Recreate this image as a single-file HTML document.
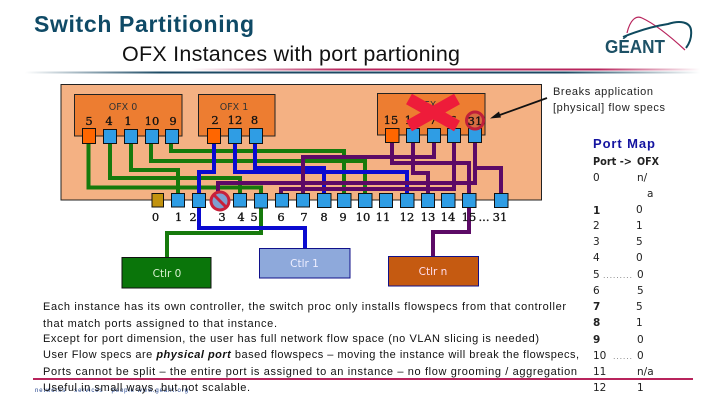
<!DOCTYPE html>
<html><head><meta charset="utf-8"><style>html,body{margin:0;padding:0;background:#fff}svg{display:block}
.s{font-family:"Liberation Sans",sans-serif}
.n{font-family:"DejaVu Serif",serif;font-size:11.5px;text-anchor:middle;fill:#111;stroke:#111;stroke-width:.3px}
.o{font-family:"DejaVu Sans",sans-serif;font-size:9.5px;text-anchor:middle;fill:#333}
.c{font-family:"DejaVu Sans",sans-serif;font-size:10.5px;text-anchor:middle}
.b{font-family:"Liberation Sans",sans-serif;font-size:11px;fill:#111}
.m{font-family:"DejaVu Sans",sans-serif;font-size:10.5px;fill:#222}
</style></head><body>
<svg width="720" height="405" viewBox="0 0 720 405" xmlns="http://www.w3.org/2000/svg">
<defs>
<linearGradient id="g1" x1="0" x2="1" y1="0" y2="0"><stop offset="0" stop-color="#fff"/><stop offset=".2" stop-color="#1c4a64"/><stop offset=".8" stop-color="#1c4a64"/><stop offset="1" stop-color="#fff"/></linearGradient>
<linearGradient id="g2" x1="0" x2="1" y1="0" y2="0"><stop offset="0" stop-color="#fff"/><stop offset=".3" stop-color="#b8245c"/><stop offset=".8" stop-color="#b8245c"/><stop offset="1" stop-color="#fff"/></linearGradient>
</defs>
<text x="34" y="32" class="s" font-size="23" font-weight="bold" fill="#0f4a66" textLength="220" lengthAdjust="spacing">Switch Partitioning</text>
<text x="122" y="61" class="s" font-size="21.500" fill="#111" textLength="338" lengthAdjust="spacing">OFX Instances with port partioning</text>
<rect x="25" y="71.500" width="675" height="2" fill="url(#g1)"/>
<rect x="190" y="68.500" width="510" height="2" fill="url(#g2)"/>

<path d="M627 33C630 20 636 15 642 18C655 24 672 38 685 50" fill="none" stroke="#b8245c" stroke-width="1.200"/>
<path d="M623 37C640 30 655 26 668 24C680 20 690 22 691 30C692 38 689 44 686 48" fill="none" stroke="#0f4a5e" stroke-width="2"/>
<text x="605" y="53" class="s" font-size="18" font-weight="bold" fill="#1d5166" textLength="60" lengthAdjust="spacingAndGlyphs">GÉANT</text>

<rect x="61" y="84.500" width="480.500" height="115.500" fill="#f4b183" stroke="#222" stroke-width="1"/>
<rect x="74.500" y="94.500" width="107.500" height="41.500" fill="#ed7d31" stroke="#222"/>
<rect x="198.500" y="94.500" width="76.500" height="41.500" fill="#ed7d31" stroke="#222"/>
<rect x="377.500" y="93.500" width="107.500" height="41.500" fill="#ed7d31" stroke="#222"/>

<g fill="none" stroke="#167a0c" stroke-width="4">
<path d="M88.500 143V187.500H261V233H167V257"/>
<path d="M110 143V178H240V193"/>
<path d="M131 143V170H178V193"/>
<path d="M151 143V161H365V193"/>
<path d="M171 143V151H344V193"/>
</g>
<g fill="none" stroke="#0a0ad0" stroke-width="4">
<path d="M214 143V172H199V228H305V248"/>
<path d="M235 143V172H407V193"/>
<path d="M255 143V168H324V193"/>
</g>
<g fill="none" stroke="#5c0a66" stroke-width="4">
<path d="M392 142V163H469V232H433V256"/>
<path d="M413 142V173H428V193"/>
<path d="M434 142V157H303V193"/>
<path d="M454 142V189H281V193"/>
<path d="M475 142V183H218V193"/>
<path d="M475 168H501V193"/>
</g>

<g stroke="#111" stroke-width="1">
<rect x="82.500" y="128.500" width="13" height="15" fill="#ff6600"/>
<rect x="103.500" y="129.500" width="13" height="14" fill="#2f9de4"/>
<rect x="124.500" y="129.500" width="13" height="14" fill="#2f9de4"/>
<rect x="145.500" y="129.500" width="13" height="14" fill="#2f9de4"/>
<rect x="165.500" y="129.500" width="13" height="14" fill="#2f9de4"/>
<rect x="207.500" y="128.500" width="13" height="15" fill="#ff6600"/>
<rect x="228.500" y="128.500" width="13" height="15" fill="#2f9de4"/>
<rect x="249.500" y="128.500" width="13" height="15" fill="#2f9de4"/>
<rect x="385.500" y="128.500" width="13.500" height="14" fill="#ff6600"/>
<rect x="406.500" y="128.500" width="13" height="14" fill="#2f9de4"/>
<rect x="427.500" y="128.500" width="13" height="14" fill="#2f9de4"/>
<rect x="447.500" y="128.500" width="13" height="14" fill="#2f9de4"/>
<rect x="468.500" y="128.500" width="13" height="14" fill="#2f9de4"/>
</g>
<g stroke="#111" stroke-width="1" fill="#2f9de4">
<rect x="152" y="193.500" width="11.500" height="13.500" fill="#c2930f"/>
<rect x="171.500" y="193.500" width="13" height="13.500"/>
<rect x="192.500" y="193.500" width="13" height="14"/>
<rect x="233.500" y="193.500" width="13" height="13.500"/>
<rect x="254.500" y="193.500" width="13" height="14.500"/>
<rect x="275.500" y="193.500" width="13" height="13.500"/>
<rect x="296.500" y="193.500" width="13" height="13.500"/>
<rect x="317.500" y="193.500" width="13.500" height="14"/>
<rect x="337.500" y="193.500" width="13.500" height="14"/>
<rect x="358.500" y="193.500" width="13.500" height="14"/>
<rect x="379.500" y="193.500" width="13" height="14"/>
<rect x="400.500" y="193.500" width="13.500" height="14"/>
<rect x="421.500" y="193.500" width="13" height="14"/>
<rect x="441.500" y="193.500" width="13.500" height="14"/>
<rect x="462.500" y="193.500" width="13.500" height="14"/>
<rect x="494.500" y="193.500" width="13.500" height="14"/>
</g>

<circle cx="220" cy="201" r="9" fill="#7f9fd0" stroke="#c8203a" stroke-width="3"/>
<path d="M213.500 194.500L226.500 207.500" stroke="#c8203a" stroke-width="3"/>

<text x="123" y="110" class="o">OFX 0</text>
<text x="234" y="110" class="o">OFX 1</text>
<text x="431" y="108" class="o">OFX n</text>
<text class="n" x="89" y="125">5</text><text class="n" x="109" y="125">4</text><text class="n" x="128" y="125">1</text><text class="n" x="152" y="125">10</text><text class="n" x="173" y="125">9</text>
<text class="n" x="215" y="124">2</text><text class="n" x="235" y="124">12</text><text class="n" x="254.500" y="124">8</text>
<text class="n" x="391" y="124">15</text><text class="n" x="412" y="124">14</text><text class="n" x="433" y="124">7</text><text class="n" x="453" y="124">6</text>
<text class="n" x="155.500" y="221">0</text><text class="n" x="178.500" y="221">1</text><text class="n" x="193" y="221">2</text><text class="n" x="222" y="221">3</text><text class="n" x="241" y="221">4</text><text class="n" x="254" y="221">5</text><text class="n" x="281" y="221">6</text><text class="n" x="304" y="221">7</text><text class="n" x="324" y="221">8</text><text class="n" x="343" y="221">9</text><text class="n" x="363" y="221">10</text><text class="n" x="383" y="221">11</text><text class="n" x="407" y="221">12</text><text class="n" x="428" y="221">13</text><text class="n" x="448" y="221">14</text><text class="n" x="469" y="221">15</text><text class="n" x="484" y="221">...</text><text class="n" x="500" y="221">31</text>

<path d="M409 99L457 126M457 99L409 126" stroke="#ee1c3a" stroke-width="12" fill="none"/>
<circle cx="475" cy="120.500" r="8.500" fill="#b05060" fill-opacity=".35" stroke="#c0203a" stroke-width="3"/>
<text class="n" x="475" y="125">31</text>

<path d="M547 98L497 116" stroke="#111" stroke-width="1.800"/>
<path d="M490 118.500L499 111.500L501 117.500Z" fill="#111"/>
<text x="553" y="95" class="s" font-size="11" fill="#222" textLength="100" lengthAdjust="spacing">Breaks application</text>
<text x="553" y="111" class="s" font-size="11" fill="#222" textLength="112" lengthAdjust="spacing">[physical] flow specs</text>

<rect x="122" y="257.500" width="89" height="30.500" fill="#0a750a" stroke="#111"/>
<text x="167" y="277" class="c" fill="#d8f0d0">Ctlr  0</text>
<rect x="259.500" y="248.500" width="90.500" height="29.500" fill="#8ea9db" stroke="#10108a"/>
<text x="304.500" y="267" class="c" fill="#eef">Ctlr  1</text>
<rect x="388.500" y="256.500" width="90" height="29.500" fill="#c55a11" stroke="#10108a"/>
<text x="433" y="275" class="c" fill="#fde">Ctlr  n</text>

<text class="b" x="43" y="310" textLength="523" lengthAdjust="spacing">Each instance has its own controller, the switch proc only installs flowspecs from that controller</text>
<text class="b" x="43" y="327" textLength="234" lengthAdjust="spacing">that match ports assigned to that instance.</text>
<text class="b" x="43" y="342" textLength="496" lengthAdjust="spacing">Except for port dimension, the user has full network flow space (no VLAN slicing is needed)</text>
<text class="b" x="43" y="358" textLength="536" lengthAdjust="spacing">User Flow specs are <tspan font-weight="bold" font-style="italic">physical port</tspan> based flowspecs – moving the instance will break the flowspecs,</text>
<text class="b" x="43" y="375" textLength="534" lengthAdjust="spacing">Ports cannot be split – the entire port is assigned to an instance – no flow grooming / aggregation</text>
<text x="35" y="392" class="s" font-size="6" fill="#1d3f8a" textLength="153" lengthAdjust="spacing">networks · services · people     www.geant.org</text>
<text class="b" x="43" y="391" textLength="207" lengthAdjust="spacing">Useful in small ways, but not scalable.</text>
<rect x="33" y="378" width="660" height="2" fill="#b8245c"/>

<text x="593" y="148" class="s" font-size="13" font-weight="bold" fill="#1414a0" textLength="62" lengthAdjust="spacing">Port Map</text>
<text class="m" x="593" y="165" font-weight="bold" textLength="39" lengthAdjust="spacingAndGlyphs">Port -&gt;</text><text class="m" x="637" y="165" font-weight="bold" textLength="22" lengthAdjust="spacingAndGlyphs">OFX</text>
<text class="m" x="593" y="181">0</text><text class="m" x="637" y="181">n/</text>
<text class="m" x="647" y="197">a</text>
<text class="m" x="593" y="214" font-weight="bold">1</text><text class="m" x="636" y="213">0</text>
<text class="m" x="593" y="229">2</text><text class="m" x="636" y="229">1</text>
<text class="m" x="593" y="245">3</text><text class="m" x="636" y="245">5</text>
<text class="m" x="593" y="261">4</text><text class="m" x="636" y="261">0</text>
<text class="m" x="593" y="278">5</text><text x="603" y="278" font-size="9" fill="#888" class="s" textLength="29" lengthAdjust="spacing">.........</text><text class="m" x="637" y="278">0</text>
<text class="m" x="593" y="294">6</text><text class="m" x="637" y="294">5</text>
<text class="m" x="593" y="310" font-weight="bold">7</text><text class="m" x="636" y="310">5</text>
<text class="m" x="593" y="326" font-weight="bold">8</text><text class="m" x="636" y="326">1</text>
<text class="m" x="593" y="343" font-weight="bold">9</text><text class="m" x="637" y="343">0</text>
<text class="m" x="593" y="359">10</text><text x="613" y="359" font-size="9" fill="#888" class="s" textLength="19" lengthAdjust="spacing">......</text><text class="m" x="637" y="359">0</text>
<text class="m" x="593" y="375">11</text><text class="m" x="637" y="375">n/a</text>
<text class="m" x="593" y="391">12</text><text class="m" x="637" y="391">1</text>
</svg>
</body></html>
